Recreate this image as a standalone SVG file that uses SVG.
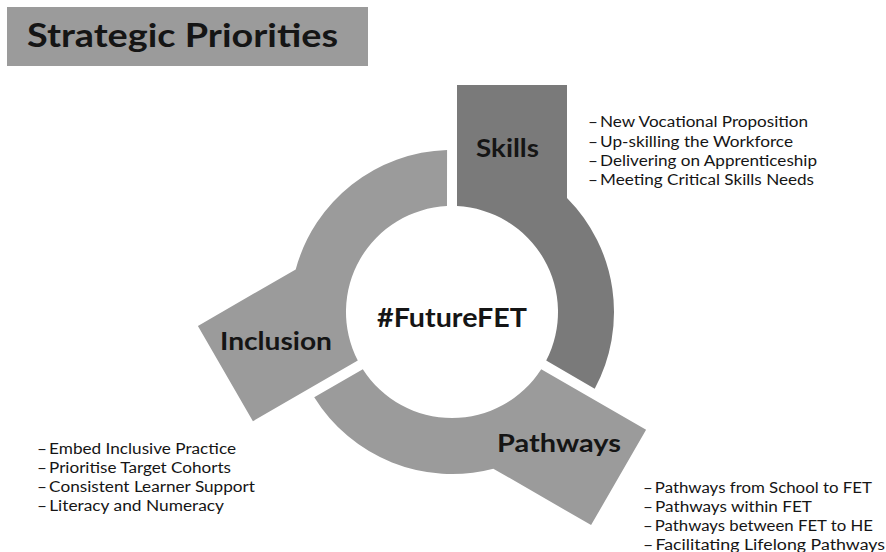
<svg xmlns="http://www.w3.org/2000/svg" xmlns:xlink="http://www.w3.org/1999/xlink" width="886" height="552" viewBox="0 0 886 552">
  <style>
    .lbl { font-family: Lato, "Liberation Sans", sans-serif; font-weight: bold; fill: #151515; }
    .big { font-size: 25px; }
    .item { font-family: Lato, "Liberation Sans", sans-serif; font-size: 15.5px; fill: #151515; }
    .light { fill: #9b9b9b; }
    .dark { fill: #7a7a7a; }
  </style>
  <defs>
    <path id="seg" d="M 457 85 L 567 85 L 567 197.9 A 162 162 0 0 1 594.7 388.7 L 546.2 360.6 A 106 106 0 0 0 457 206.1 Z"/>
  </defs>
  <rect width="886" height="552" fill="#ffffff"/>

  <g id="title">
    <rect x="7" y="7" width="361" height="59" class="light"/>
    <text x="27" y="47" class="lbl" font-size="32" textLength="311" lengthAdjust="spacingAndGlyphs">Strategic Priorities</text>
  </g>

  <g id="connectors"></g>

  <g id="skills">
    <use xlink:href="#seg" href="#seg" class="dark"/>
    <text x="476" y="157" class="lbl big" textLength="63" lengthAdjust="spacingAndGlyphs">Skills</text>
  </g>

  <g id="pathways">
    <use xlink:href="#seg" href="#seg" class="light" transform="rotate(120 452 312)"/>
    <text x="497" y="452" class="lbl big" textLength="124" lengthAdjust="spacingAndGlyphs">Pathways</text>
  </g>

  <g id="inclusion">
    <use xlink:href="#seg" href="#seg" class="light" transform="rotate(240 452 312)"/>
    <text x="220" y="349.5" class="lbl big" textLength="112" lengthAdjust="spacingAndGlyphs">Inclusion</text>
  </g>

  <g id="center">
    <text x="377" y="327" class="lbl" font-size="26" textLength="150" lengthAdjust="spacingAndGlyphs">#FutureFET</text>
  </g>

  <g id="skills-list">
    <text x="588" y="127" class="item" textLength="220" lengthAdjust="spacingAndGlyphs">–&#8201;New Vocational Proposition</text>
    <text x="588" y="146.5" class="item" textLength="205" lengthAdjust="spacingAndGlyphs">–&#8201;Up-skilling the Workforce</text>
    <text x="588" y="166" class="item" textLength="229" lengthAdjust="spacingAndGlyphs">–&#8201;Delivering on Apprenticeship</text>
    <text x="588" y="185" class="item" textLength="226" lengthAdjust="spacingAndGlyphs">–&#8201;Meeting Critical Skills Needs</text>
  </g>

  <g id="inclusion-list">
    <text x="37" y="454" class="item" textLength="199" lengthAdjust="spacingAndGlyphs">–&#8201;Embed Inclusive Practice</text>
    <text x="37" y="473" class="item" textLength="194" lengthAdjust="spacingAndGlyphs">–&#8201;Prioritise Target Cohorts</text>
    <text x="37" y="492" class="item" textLength="218" lengthAdjust="spacingAndGlyphs">–&#8201;Consistent Learner Support</text>
    <text x="37" y="511" class="item" textLength="187" lengthAdjust="spacingAndGlyphs">–&#8201;Literacy and Numeracy</text>
  </g>

  <g id="pathways-list">
    <text x="643" y="493" class="item" textLength="229" lengthAdjust="spacingAndGlyphs">–&#8201;Pathways from School to FET</text>
    <text x="643" y="512" class="item" textLength="169" lengthAdjust="spacingAndGlyphs">–&#8201;Pathways within FET</text>
    <text x="643" y="531" class="item" textLength="230" lengthAdjust="spacingAndGlyphs">–&#8201;Pathways between FET to HE</text>
    <text x="643" y="549.5" class="item" textLength="242" lengthAdjust="spacingAndGlyphs">–&#8201;Facilitating Lifelong Pathways</text>
  </g>
</svg>
